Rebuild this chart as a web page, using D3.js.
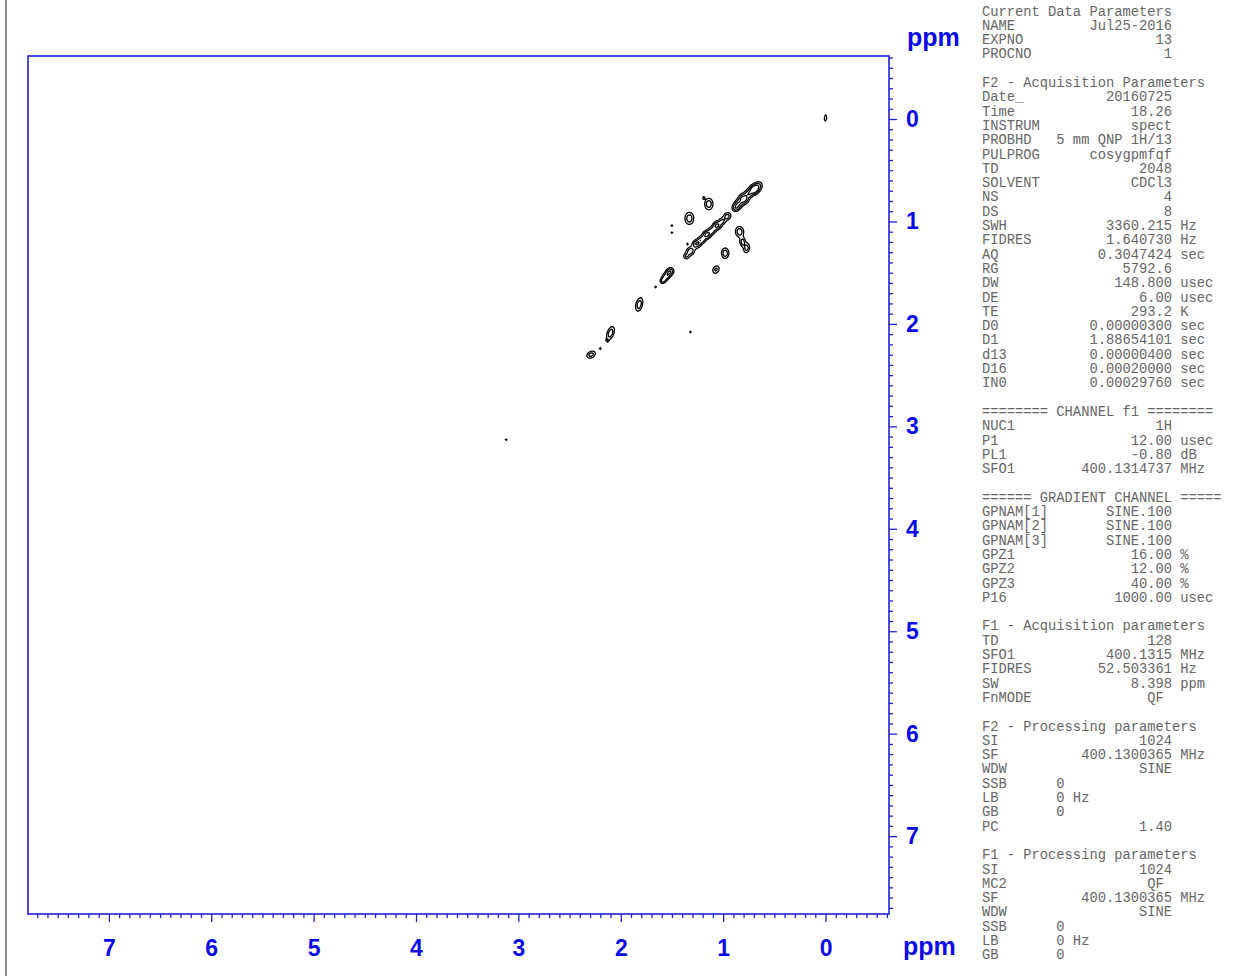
<!DOCTYPE html>
<html>
<head>
<meta charset="utf-8">
<script src="https://cdn.jsdelivr.net/npm/d3@7"></script>
<style>
  body { margin: 0; background: #fff; }
  svg { display: block; }
  .axis path.domain { display: none; }
  .axis line { stroke: #2020d8; stroke-width: 1.3; }
  .axis text { fill: #0a0ae8; font: bold 23px "Liberation Sans", Arial, sans-serif; }
  .unit { fill: #0a0ae8; font: bold 25px "Liberation Sans", Arial, sans-serif; }
  .params text { font-family: "Liberation Mono", "Courier New", monospace; font-size: 13.77px; fill: #666; white-space: pre; }
  .peaks path { fill: none; stroke: #000; stroke-width: 1.3; }
</style>
</head>
<body>
<div id="chart"></div>
<script>

// axis ranges (ppm) and labels
var f2Domain = [7.79, -0.62],
    f1Domain = [-0.615, 7.76];
var f2Ticks = [7, 6, 5, 4, 3, 2, 1, 0],
    f1Ticks = [0, 1, 2, 3, 4, 5, 6, 7];

// peaks: f2, f1 (ppm), height, widths along/across (ppm), tilt (deg)
var diagonalPeaks = [
  {f2: 0.00, f1: -0.01, h: 0.8, wa: 0.028, wb: 0.010, tilt: -85},
  {f2: 0.66, f1: 0.655, h: 1.0, wa: 0.035, wb: 0.030, tilt: -45},
  {f2: 0.70, f1: 0.69, h: 1.4, wa: 0.030, wb: 0.032, tilt: -45},
  {f2: 0.75, f1: 0.73, h: 1.0, wa: 0.030, wb: 0.030, tilt: -45},
  {f2: 0.80, f1: 0.78, h: 1.5, wa: 0.030, wb: 0.034, tilt: -45},
  {f2: 0.85, f1: 0.83, h: 1.1, wa: 0.030, wb: 0.030, tilt: -45},
  {f2: 0.88, f1: 0.87, h: 0.9, wa: 0.025, wb: 0.026, tilt: -45},
  {f2: 0.96, f1: 0.95, h: 1.0, wa: 0.030, wb: 0.026, tilt: -45},
  {f2: 1.01, f1: 1.00, h: 0.8, wa: 0.025, wb: 0.024, tilt: -45},
  {f2: 1.06, f1: 1.04, h: 1.3, wa: 0.030, wb: 0.028, tilt: -45},
  {f2: 1.11, f1: 1.09, h: 0.9, wa: 0.028, wb: 0.026, tilt: -45},
  {f2: 1.16, f1: 1.13, h: 1.3, wa: 0.030, wb: 0.028, tilt: -45},
  {f2: 1.21, f1: 1.18, h: 1.0, wa: 0.028, wb: 0.026, tilt: -45},
  {f2: 1.26, f1: 1.22, h: 1.2, wa: 0.030, wb: 0.028, tilt: -45},
  {f2: 1.32, f1: 1.29, h: 1.1, wa: 0.030, wb: 0.028, tilt: -45},
  {f2: 1.36, f1: 1.34, h: 0.8, wa: 0.022, wb: 0.022, tilt: -45},
  {f2: 1.52, f1: 1.49, h: 1.2, wa: 0.030, wb: 0.026, tilt: -50},
  {f2: 1.56, f1: 1.54, h: 1.0, wa: 0.030, wb: 0.024, tilt: -50},
  {f2: 1.59, f1: 1.58, h: 0.8, wa: 0.022, wb: 0.020, tilt: -40},
  {f2: 1.82, f1: 1.81, h: 1.1, wa: 0.050, wb: 0.024, tilt: -75},
  {f2: 2.10, f1: 2.09, h: 1.1, wa: 0.050, wb: 0.024, tilt: -70},
  {f2: 2.29, f1: 2.30, h: 1.0, wa: 0.035, wb: 0.024, tilt: -30}
];

var crossPeaks = [
  {f2: 1.14, f1: 0.83, h: 1.1, wa: 0.042, wb: 0.030, tilt: -90},
  {f2: 1.19, f1: 0.77, h: 0.6, wa: 0.012, wb: 0.010, tilt: -90},
  {f2: 1.33, f1: 0.97, h: 1.1, wa: 0.044, wb: 0.032, tilt: -90},
  {f2: 1.50, f1: 1.04, h: 0.6, wa: 0.010, wb: 0.010, tilt: -90},
  {f2: 1.50, f1: 1.11, h: 0.6, wa: 0.010, wb: 0.010, tilt: -90},
  {f2: 0.84, f1: 1.10, h: 1.1, wa: 0.038, wb: 0.030, tilt: -90},
  {f2: 0.81, f1: 1.20, h: 1.0, wa: 0.032, wb: 0.020, tilt: -90},
  {f2: 0.77, f1: 1.26, h: 1.0, wa: 0.036, wb: 0.022, tilt: -80},
  {f2: 0.98, f1: 1.31, h: 1.1, wa: 0.038, wb: 0.027, tilt: -90},
  {f2: 1.07, f1: 1.47, h: 0.9, wa: 0.032, wb: 0.024, tilt: -60},
  {f2: 1.35, f1: 1.22, h: 0.55, wa: 0.010, wb: 0.010, tilt: 0},
  {f2: 1.66, f1: 1.64, h: 0.6, wa: 0.012, wb: 0.010, tilt: -45},
  {f2: 2.13, f1: 2.16, h: 0.6, wa: 0.012, wb: 0.010, tilt: -90},
  {f2: 2.20, f1: 2.24, h: 0.6, wa: 0.012, wb: 0.010, tilt: -60},
  {f2: 1.32, f1: 2.08, h: 0.6, wa: 0.010, wb: 0.010, tilt: 0},
  {f2: 3.12, f1: 3.13, h: 0.6, wa: 0.010, wb: 0.010, tilt: 0}
];

var contourLevels = [0.45, 0.8, 1.2];

// acquisition / processing parameter block
var paramBlocks = [
  {title: "Current Data Parameters", rows: [["NAME", "Jul25-2016"], ["EXPNO", "13"], ["PROCNO", "1"]]},
  {title: "F2 - Acquisition Parameters", rows: [
    ["Date_", "20160725"], ["Time", "18.26"], ["INSTRUM", "spect"], ["PROBHD", "5 mm QNP 1H/13"],
    ["PULPROG", "cosygpmfqf"], ["TD", "2048"], ["SOLVENT", "CDCl3"], ["NS", "4"], ["DS", "8"],
    ["SWH", "3360.215", "Hz"], ["FIDRES", "1.640730", "Hz"], ["AQ", "0.3047424", "sec"],
    ["RG", "5792.6"], ["DW", "148.800", "usec"], ["DE", "6.00", "usec"], ["TE", "293.2", "K"],
    ["D0", "0.00000300", "sec"], ["D1", "1.88654101", "sec"], ["d13", "0.00000400", "sec"],
    ["D16", "0.00020000", "sec"], ["IN0", "0.00029760", "sec"]]},
  {title: "======== CHANNEL f1 ========", rows: [
    ["NUC1", "1H"], ["P1", "12.00", "usec"], ["PL1", "-0.80", "dB"], ["SFO1", "400.1314737", "MHz"]]},
  {title: "====== GRADIENT CHANNEL =====", rows: [
    ["GPNAM[1]", "SINE.100"], ["GPNAM[2]", "SINE.100"], ["GPNAM[3]", "SINE.100"],
    ["GPZ1", "16.00", "%"], ["GPZ2", "12.00", "%"], ["GPZ3", "40.00", "%"], ["P16", "1000.00", "usec"]]},
  {title: "F1 - Acquisition parameters", rows: [
    ["TD", "128"], ["SFO1", "400.1315", "MHz"], ["FIDRES", "52.503361", "Hz"], ["SW", "8.398", "ppm"],
    ["FnMODE", "QF", "", 22]]},
  {title: "F2 - Processing parameters", rows: [
    ["SI", "1024"], ["SF", "400.1300365", "MHz"], ["WDW", "SINE"], ["SSB", "0", "", 10],
    ["LB", "0", "Hz", 10], ["GB", "0", "", 10], ["PC", "1.40"]]},
  {title: "F1 - Processing parameters", rows: [
    ["SI", "1024"], ["MC2", "QF", "", 22], ["SF", "400.1300365", "MHz"], ["WDW", "SINE"],
    ["SSB", "0", "", 10], ["LB", "0", "Hz", 10], ["GB", "0", "", 10]]}
];

var width = 1238, height = 976;
var plot = {left: 28, top: 56, right: 889, bottom: 914};

var svg = d3.select("#chart").append("svg")
    .attr("width", width)
    .attr("height", height);

// gray page edge
svg.append("line")
    .attr("x1", 6).attr("x2", 6).attr("y1", 0).attr("y2", height)
    .style("stroke", "#8c8c8c").style("stroke-width", 2);

var x = d3.scaleLinear().domain(f2Domain).range([plot.left, plot.right]);
var y = d3.scaleLinear().domain(f1Domain).range([plot.top, plot.bottom]);

var minor = d3.range(-6, 78).map(function(v) { return v / 10; })
    .filter(function(v) { return Math.abs(v - Math.round(v)) > 1e-6; });

// x axis
svg.append("g").attr("class", "axis")
    .attr("transform", "translate(0," + plot.bottom + ")")
    .call(d3.axisBottom(x).tickValues(minor).tickSize(4).tickFormat(""));
svg.append("g").attr("class", "axis")
    .attr("transform", "translate(0," + plot.bottom + ")")
    .call(d3.axisBottom(x).tickValues(f2Ticks).tickSize(8).tickPadding(18).tickFormat(d3.format("d")));

// y axis
svg.append("g").attr("class", "axis")
    .attr("transform", "translate(" + plot.right + ",0)")
    .call(d3.axisRight(y).tickValues(minor).tickSize(4).tickFormat(""));
svg.append("g").attr("class", "axis")
    .attr("transform", "translate(" + plot.right + ",0)")
    .call(d3.axisRight(y).tickValues(f1Ticks).tickSize(8).tickPadding(9).tickFormat(d3.format("d")));

// frame
svg.append("rect")
    .attr("x", plot.left).attr("y", plot.top)
    .attr("width", plot.right - plot.left).attr("height", plot.bottom - plot.top)
    .style("fill", "none").style("stroke", "#2020d8").style("stroke-width", 1.6);

svg.append("text").attr("class", "unit").attr("x", 907).attr("y", 46).text("ppm");
svg.append("text").attr("class", "unit").attr("x", 903).attr("y", 955).text("ppm");

// contour field built from the peak list
var gw = plot.right - plot.left, gh = plot.bottom - plot.top;
var pxPerPpm = Math.abs(x(0) - x(1));
var field = new Float64Array(gw * gh);

diagonalPeaks.concat(crossPeaks).forEach(function(p) {
  var cx = x(p.f2) - plot.left, cy = y(p.f1) - plot.top;
  var sa = p.wa * pxPerPpm, sb = p.wb * pxPerPpm;
  var a = p.tilt * Math.PI / 180, ca = Math.cos(a), sn = Math.sin(a);
  var r = Math.ceil(4 * Math.max(sa, sb));
  for (var j = Math.max(0, Math.floor(cy - r)); j <= Math.min(gh - 1, Math.ceil(cy + r)); j++) {
    for (var i = Math.max(0, Math.floor(cx - r)); i <= Math.min(gw - 1, Math.ceil(cx + r)); i++) {
      var dx = i + 0.5 - cx, dy = j + 0.5 - cy;
      var u = dx * ca + dy * sn, v = -dx * sn + dy * ca;
      field[j * gw + i] += p.h * Math.exp(-0.5 * (u * u / (sa * sa) + v * v / (sb * sb)));
    }
  }
});

var contours = d3.contours().size([gw, gh]).thresholds(contourLevels)(field);

svg.append("g").attr("class", "peaks")
    .attr("transform", "translate(" + plot.left + "," + plot.top + ")")
  .selectAll("path")
    .data(contours)
  .enter().append("path")
    .attr("d", d3.geoPath());

// parameter text
var lines = [];
paramBlocks.forEach(function(b, bi) {
  if (bi > 0) lines.push("");
  lines.push(b.title);
  b.rows.forEach(function(r) {
    var end = r[3] || 23;
    var s = r[0];
    while (s.length < end - r[1].length) s += " ";
    s += r[1];
    if (r[2]) s += " " + r[2];
    lines.push(s);
  });
});

svg.append("g").attr("class", "params")
  .selectAll("text")
    .data(lines)
  .enter().append("text")
    .attr("x", 982)
    .attr("y", function(d, i) { return 15.5 + i * 14.3; })
    .text(function(d) { return d; });

</script>
</body>
</html>
